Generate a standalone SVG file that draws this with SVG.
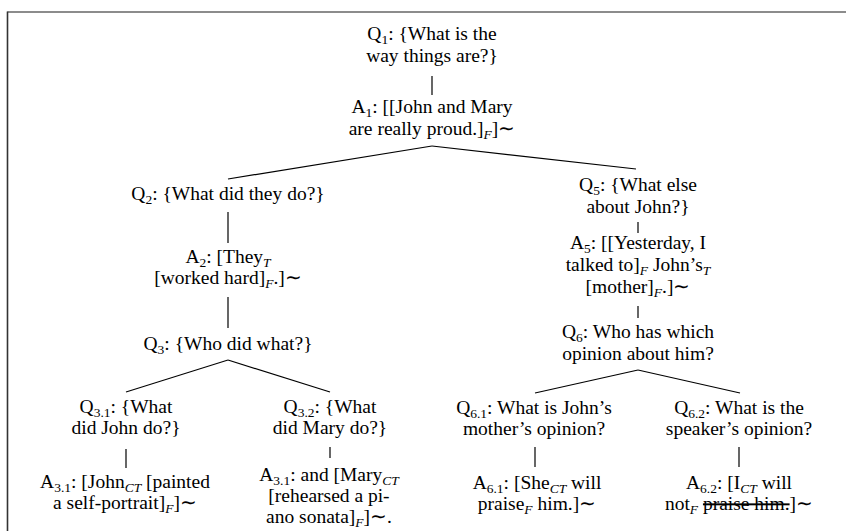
<svg xmlns="http://www.w3.org/2000/svg" width="846" height="531" viewBox="0 0 846 531">
<style>
text{font-family:"Liberation Serif","Times New Roman",serif;font-size:19.5px;fill:#000;text-anchor:middle}
.s{font-size:13.5px}
.i{font-style:italic}
.c line{stroke:#000;stroke-width:1.2}
</style>
<rect width="846" height="531" fill="#fff"/>
<g id="frame">
<line x1="7.5" y1="12" x2="846" y2="12" stroke="#666" stroke-width="1.6"/>
<line x1="7.5" y1="11.5" x2="7.5" y2="531" stroke="#333" stroke-width="1.6"/>
</g>
<g id="connectors" class="c">
<line x1="432" y1="76" x2="432" y2="95"/>
<line x1="432" y1="146" x2="228" y2="179"/>
<line x1="432" y1="146" x2="636" y2="169"/>
<line x1="228" y1="212" x2="228" y2="243"/>
<line x1="228" y1="297" x2="228" y2="328"/>
<line x1="228" y1="360" x2="126" y2="392"/>
<line x1="228" y1="360" x2="330" y2="392"/>
<line x1="126" y1="449" x2="126" y2="468"/>
<line x1="330" y1="447" x2="330" y2="458"/>
<line x1="638" y1="222" x2="638" y2="233"/>
<line x1="638" y1="306" x2="638" y2="318"/>
<line x1="638" y1="370" x2="535" y2="393"/>
<line x1="638" y1="370" x2="740" y2="393"/>
<line x1="535" y1="447" x2="535" y2="467"/>
<line x1="739" y1="447" x2="739" y2="467"/>
</g>
<g id="Q1">
<text x="432" y="40">Q<tspan class="s" dy="4">1</tspan><tspan dy="-4">: {What is the</tspan></text>
<text x="432" y="62">way things are?}</text>
</g>
<g id="A1">
<text x="432" y="113">A<tspan class="s" dy="4">1</tspan><tspan dy="-4">: [[John and Mary</tspan></text>
<text x="432" y="135">are really proud.]<tspan class="s i" dy="4">F</tspan><tspan dy="-4">]∼</tspan></text>
</g>
<g id="Q2">
<text x="228" y="200">Q<tspan class="s" dy="4">2</tspan><tspan dy="-4">: {What did they do?}</tspan></text>
</g>
<g id="A2">
<text x="228" y="263">A<tspan class="s" dy="4">2</tspan><tspan dy="-4">: [They</tspan><tspan class="s i" dy="4">T</tspan></text>
<text x="228" y="284">[worked hard]<tspan class="s i" dy="4">F</tspan><tspan dy="-4">.]∼</tspan></text>
</g>
<g id="Q3">
<text x="228" y="350">Q<tspan class="s" dy="4">3</tspan><tspan dy="-4">: {Who did what?}</tspan></text>
</g>
<g id="Q3_1">
<text x="126" y="413">Q<tspan class="s" dy="4">3.1</tspan><tspan dy="-4">: {What</tspan></text>
<text x="126" y="434">did John do?}</text>
</g>
<g id="A3_1">
<text x="125" y="488">A<tspan class="s" dy="4">3.1</tspan><tspan dy="-4">: [John</tspan><tspan class="s i" dy="4">CT</tspan><tspan dy="-4"> [painted</tspan></text>
<text x="125" y="509">a self-portrait]<tspan class="s i" dy="4">F</tspan><tspan dy="-4">]∼</tspan></text>
</g>
<g id="Q3_2">
<text x="330" y="413">Q<tspan class="s" dy="4">3.2</tspan><tspan dy="-4">: {What</tspan></text>
<text x="330" y="434">did Mary do?}</text>
</g>
<g id="A3_2">
<text x="329" y="481">A<tspan class="s" dy="4">3.1</tspan><tspan dy="-4">: and [Mary</tspan><tspan class="s i" dy="4">CT</tspan></text>
<text x="329" y="502">[rehearsed a pi-</text>
<text x="329" y="523">ano sonata]<tspan class="s i" dy="4">F</tspan><tspan dy="-4">]∼.</tspan></text>
</g>
<g id="Q5">
<text x="638" y="191">Q<tspan class="s" dy="4">5</tspan><tspan dy="-4">: {What else</tspan></text>
<text x="638" y="213">about John?}</text>
</g>
<g id="A5">
<text x="638" y="249">A<tspan class="s" dy="4">5</tspan><tspan dy="-4">: [[Yesterday, I</tspan></text>
<text x="638" y="271">talked to]<tspan class="s i" dy="4">F</tspan><tspan dy="-4"> John’s</tspan><tspan class="s i" dy="4">T</tspan></text>
<text x="638" y="293">[mother]<tspan class="s i" dy="4">F</tspan><tspan dy="-4">.]∼</tspan></text>
</g>
<g id="Q6">
<text x="638" y="338">Q<tspan class="s" dy="4">6</tspan><tspan dy="-4">: Who has which</tspan></text>
<text x="638" y="360">opinion about him?</text>
</g>
<g id="Q6_1">
<text x="534" y="414">Q<tspan class="s" dy="4">6.1</tspan><tspan dy="-4">: What is John’s</tspan></text>
<text x="534" y="435">mother’s opinion?</text>
</g>
<g id="A6_1">
<text x="537" y="489">A<tspan class="s" dy="4">6.1</tspan><tspan dy="-4">: [She</tspan><tspan class="s i" dy="4">CT</tspan><tspan dy="-4"> will</tspan></text>
<text x="537" y="510">praise<tspan class="s i" dy="4">F</tspan><tspan dy="-4"> him.]∼</tspan></text>
</g>
<g id="Q6_2">
<text x="739" y="414">Q<tspan class="s" dy="4">6.2</tspan><tspan dy="-4">: What is the</tspan></text>
<text x="739" y="435">speaker’s opinion?</text>
</g>
<g id="A6_2">
<text x="739" y="489">A<tspan class="s" dy="4">6.2</tspan><tspan dy="-4">: [I</tspan><tspan class="s i" dy="4">CT</tspan><tspan dy="-4"> will</tspan></text>
<text x="739" y="510">not<tspan class="s i" dy="4">F</tspan><tspan dy="-4"> </tspan><tspan text-decoration="line-through">praise him.</tspan>]∼</text>
</g>
</svg>
